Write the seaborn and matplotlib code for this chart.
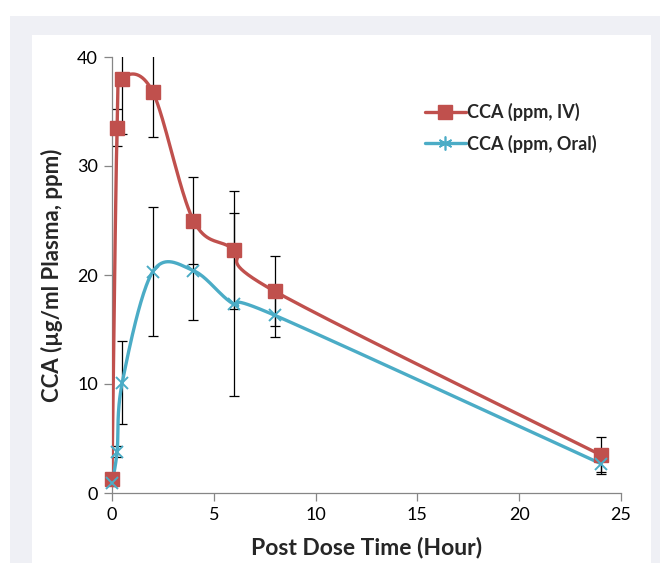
import numpy as np
import pandas as pd
import matplotlib
matplotlib.use("Agg")
import matplotlib.pyplot as plt
import seaborn as sns
from matplotlib.patches import Rectangle
from matplotlib.lines import Line2D

# ---- data ----
time_h = [0, 0.25, 0.5, 2, 4, 6, 8, 24]
iv_mean = [1.3, 33.5, 38.0, 36.8, 25.0, 22.3, 18.5, 3.5]
iv_err = [0.3, 1.7, 5.1, 4.1, 4.0, 5.4, 3.2, 1.6]
oral_mean = [0.9, 3.8, 10.1, 20.3, 20.4, 17.3, 16.3, 2.7]
oral_err = [0.3, 0.5, 3.8, 5.9, 4.5, 8.4, 2.0, 1.0]
series_names = ["CCA (ppm, IV)", "CCA (ppm, Oral)"]
x_ticks = [0, 5, 10, 15, 20, 25]
y_ticks = [0, 10, 20, 30, 40]

RED = "#C0504D"
BLUE = "#4BACC6"

sns.set_theme(style="white")
plt.rcParams["font.family"] = ["Lato", "DejaVu Sans"]


def smooth(xs, ys, sx=1.87, n=40):
    """Excel-style parametric Catmull-Rom smoothing (computed in screen-like space)."""
    P = np.column_stack([np.asarray(xs, float) * sx, np.asarray(ys, float)])
    P = np.vstack([P[0], P, P[-1]])
    out = []
    for i in range(1, len(P) - 2):
        p0, p1, p2, p3 = P[i - 1], P[i], P[i + 1], P[i + 2]
        c1 = p1 + (p2 - p0) / 6.0
        c2 = p2 - (p3 - p1) / 6.0
        t = np.linspace(0, 1, n)[:, None]
        b = ((1 - t) ** 3) * p1 + 3 * ((1 - t) ** 2) * t * c1 + 3 * (1 - t) * t ** 2 * c2 + t ** 3 * p2
        out.append(b if i == 1 else b[1:])
    out = np.vstack(out)
    return out[:, 0] / sx, out[:, 1]


fig = plt.figure(figsize=(6.6, 5.63), dpi=100)
fig.patch.set_facecolor("white")
fig.patches.append(Rectangle((10 / 660, 0), 650 / 660, 1 - 16 / 563,
                             transform=fig.transFigure, facecolor="#EFF0F5",
                             edgecolor="none", zorder=-10))
fig.patches.append(Rectangle((32 / 660, 0), (651 - 32) / 660, 1 - 35 / 563,
                             transform=fig.transFigure, facecolor="white",
                             edgecolor="none", zorder=-9))

ax = fig.add_axes([112 / 660, 1 - 493 / 563, (621 - 112) / 660, (493 - 57) / 563])
ax.set_facecolor("none")

# error bars
ax.errorbar(time_h, iv_mean, yerr=iv_err, fmt="none", ecolor="black",
            elinewidth=0.9, capsize=3.5, capthick=0.9, zorder=2)
ax.errorbar(time_h, oral_mean, yerr=oral_err, fmt="none", ecolor="black",
            elinewidth=0.9, capsize=3.5, capthick=0.9, zorder=2)

# smoothed lines
for means, color in [(iv_mean, RED), (oral_mean, BLUE)]:
    sx_, sy_ = smooth(time_h, means)
    df = pd.DataFrame({"x": sx_, "y": sy_})
    sns.lineplot(data=df, x="x", y="y", ax=ax, color=color, linewidth=2.4,
                 sort=False, estimator=None, zorder=3)

# markers
ax.plot(time_h, iv_mean, linestyle="none", marker="s", markersize=9.5,
        color=RED, zorder=4, clip_on=False)
ax.plot(time_h, oral_mean, linestyle="none", marker="x", markersize=8,
        markeredgewidth=1.4, color=BLUE, zorder=4, clip_on=False)

# legend proxies
h1 = Line2D([], [], color=RED, linewidth=2.4, marker="s", markersize=9.5)
h2 = Line2D([], [], color=BLUE, linewidth=2.4, marker=(6, 2, 0), markersize=10,
            markeredgewidth=1.2)
leg = ax.legend([h1, h2], series_names, loc="upper left",
                bbox_to_anchor=(0.6, 0.911), frameon=False,
                handlelength=2.3, handletextpad=0.05, labelspacing=0.75,
                borderaxespad=0.0,
                prop={"size": 13, "weight": "bold"})

ax.set_xlim(0, 25)
ax.set_ylim(0, 40)
ax.set_xticks(x_ticks)
ax.set_yticks(y_ticks)
ax.tick_params(axis="both", which="major", direction="out", length=6, width=0.9,
               color="#868686", labelsize=13, labelcolor="black", pad=4,
               left=True, bottom=True)
for s in ["top", "right"]:
    ax.spines[s].set_visible(False)
for s in ["left", "bottom"]:
    ax.spines[s].set_color("#868686")
    ax.spines[s].set_linewidth(0.9)

ax.set_xlabel("Post Dose Time (Hour)", fontsize=16.5, fontweight="bold", labelpad=10)
ax.set_ylabel("CCA (µg/ml Plasma, ppm)", fontsize=16, fontweight="bold", labelpad=10)

fig.savefig("out.png", dpi=100)
